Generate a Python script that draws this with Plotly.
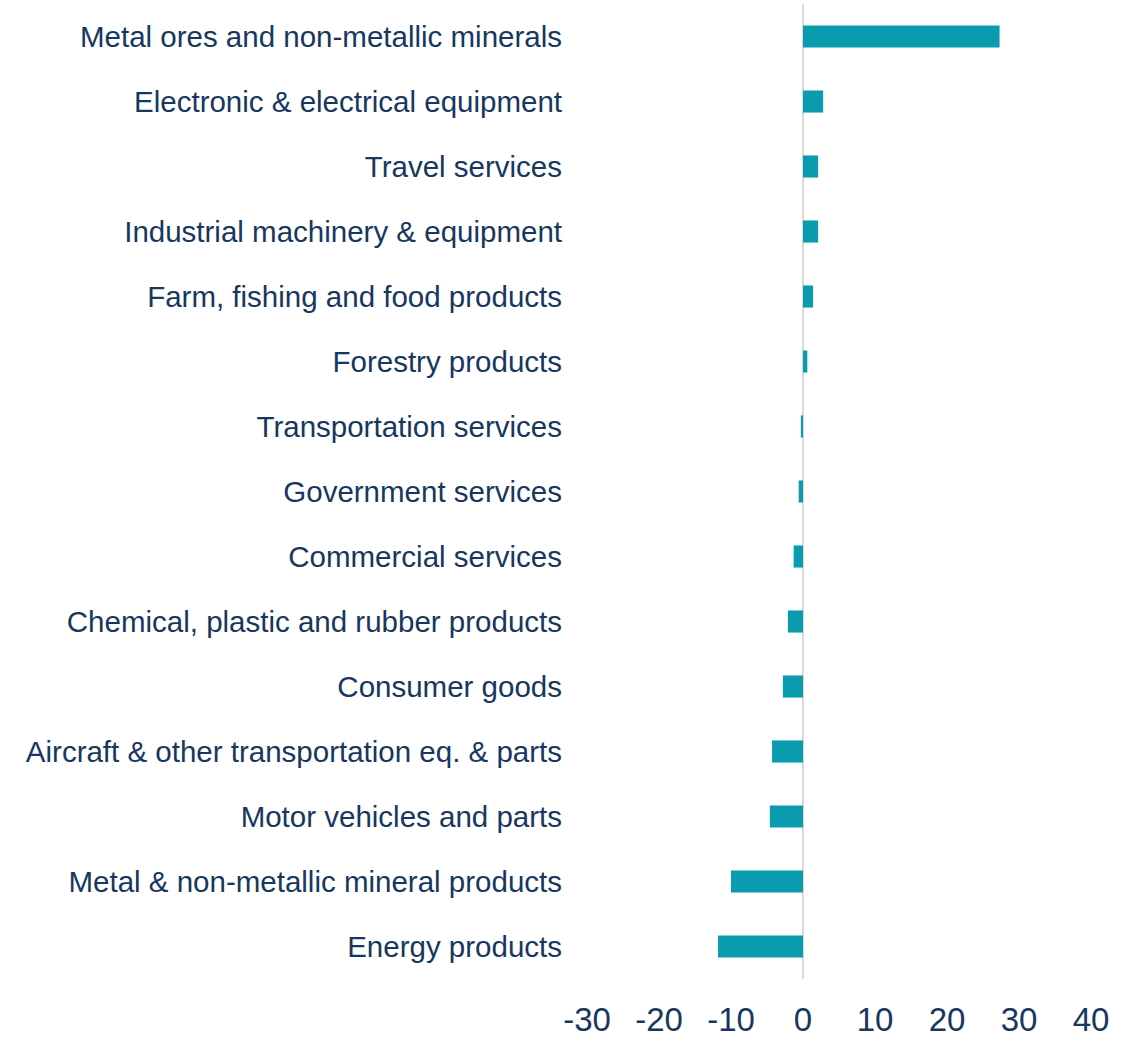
import plotly.graph_objects as go

categories = [
    "Metal ores and non-metallic minerals",
    "Electronic & electrical equipment",
    "Travel services",
    "Industrial machinery & equipment",
    "Farm, fishing and food products",
    "Forestry products",
    "Transportation services",
    "Government services",
    "Commercial services",
    "Chemical, plastic and rubber products",
    "Consumer goods",
    "Aircraft & other transportation eq. & parts",
    "Motor vehicles and parts",
    "Metal & non-metallic mineral products",
    "Energy products",
]
values = [27.3, 2.8, 2.1, 2.1, 1.4, 0.6, -0.3, -0.6, -1.3, -2.1, -2.8, -4.3, -4.6, -10.0, -11.8]
x_ticks = [-30, -20, -10, 0, 10, 20, 30, 40]

text_color = "#17375E"
bar_color = "#0A9BAF"

fig = go.Figure(
    go.Bar(
        x=values,
        y=categories,
        orientation="h",
        marker=dict(color=bar_color, line=dict(width=0)),
    )
)

fig.update_layout(
    width=1127,
    height=1037,
    margin=dict(l=587, r=36, t=4, b=58),
    paper_bgcolor="white",
    plot_bgcolor="white",
    bargap=0.66,
    showlegend=False,
    font=dict(family="Liberation Sans", color=text_color),
)

fig.update_xaxes(
    range=[-30, 40],
    tickvals=x_ticks,
    ticktext=[str(v) for v in x_ticks],
    showgrid=False,
    zeroline=True,
    zerolinecolor="#D9D9D9",
    zerolinewidth=2,
    showline=False,
    ticks="",
    automargin=False,
    tickfont=dict(size=33, color=text_color, family="Liberation Sans"),
    ticklabelstandoff=18,
)

fig.update_yaxes(
    autorange="reversed",
    showgrid=False,
    showline=False,
    ticks="",
    automargin=False,
    tickfont=dict(size=29.5, color=text_color, family="Liberation Sans"),
    ticklabelstandoff=24,
)

fig.write_html("out.html")
